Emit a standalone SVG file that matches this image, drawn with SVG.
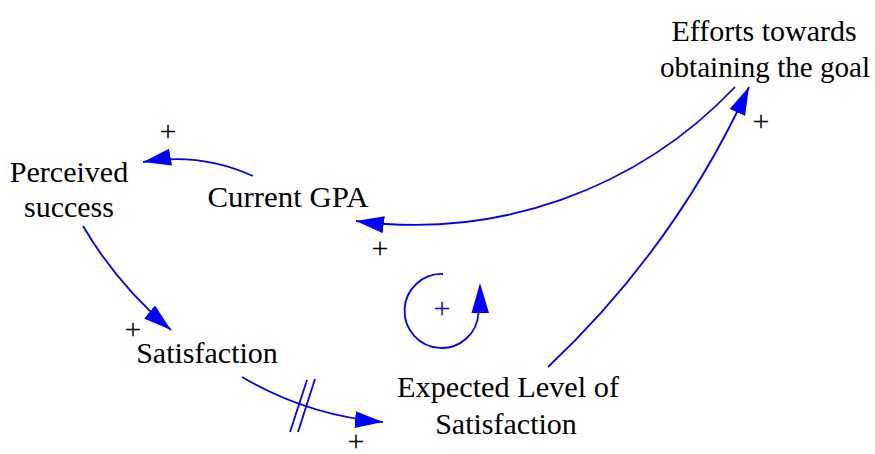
<svg xmlns="http://www.w3.org/2000/svg" width="875" height="454" viewBox="0 0 875 454">
<style>
text{font-family:'Liberation Serif','Times New Roman',serif;font-size:30px;fill:#000;text-anchor:middle}
.c{fill:none;stroke:#0000ff;stroke-width:1.8}
.lp{fill:#0000ff}
</style>
<defs>
<marker id="ah" markerUnits="userSpaceOnUse" viewBox="0 0 28 17" markerWidth="28" markerHeight="17" refX="28" refY="8.5" orient="auto">
<path d="M0,0 L28,8.5 L0,17 z" fill="#0000ff"/>
</marker>
</defs>
<rect width="875" height="454" fill="#fff"/>
<g id="connectors">
<path class="c" d="M253,176 A187,187 0 0,0 143,162" marker-end="url(#ah)"/>
<path class="c" d="M735,87 A442,442 0 0,1 356,221" marker-end="url(#ah)"/>
<path class="c" d="M83,226 A402,402 0 0,0 171,330" marker-end="url(#ah)"/>
<path class="c" d="M242,377 A333,333 0 0,0 383,422" marker-end="url(#ah)"/>
<path class="c" d="M548,367 A901,901 0 0,0 749,87" marker-end="url(#ah)"/>
<line class="c" x1="290" y1="432" x2="307" y2="380"/>
<line class="c" x1="298" y1="432" x2="315" y2="379"/>
<text x="168" y="141">+</text>
<text x="380" y="258">+</text>
<text x="133" y="339">+</text>
<text x="356" y="451">+</text>
<text x="761" y="131">+</text>
</g>
<g id="loop">
<path class="c" d="M443,274 A37,37 0 1,0 478.5,313"/>
<path class="lp" d="M480,283 L471.5,313 L489,313 z"/>
<text class="lp" x="442" y="318">+</text>
</g>
<g id="perceived_success">
<text x="69" y="182">Perceived</text>
<text x="69" y="217">success</text>
</g>
<g id="current_gpa">
<text x="288" y="207" textLength="161" lengthAdjust="spacingAndGlyphs">Current GPA</text>
</g>
<g id="satisfaction">
<text x="207" y="363">Satisfaction</text>
</g>
<g id="expected_level">
<text x="508" y="397" textLength="222" lengthAdjust="spacingAndGlyphs">Expected Level of</text>
<text x="506" y="434">Satisfaction</text>
</g>
<g id="efforts">
<text x="764" y="41">Efforts towards</text>
<text x="765" y="77" textLength="210" lengthAdjust="spacingAndGlyphs">obtaining the goal</text>
</g>
</svg>
